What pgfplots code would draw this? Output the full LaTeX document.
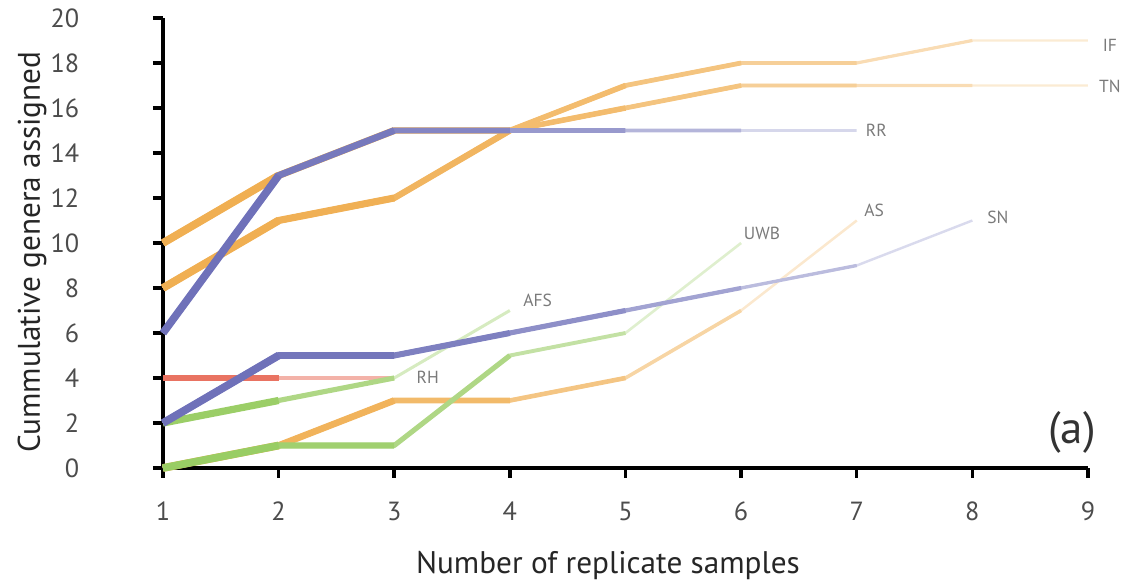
\documentclass[border=0pt]{standalone}
\usepackage{fontspec}
\setmainfont{PT Sans}
\usepackage{pgfplots}
\pgfplotsset{compat=1.18}
\usepackage{pgfplotstable}

\definecolor{orng}{HTML}{F0AE50}
\definecolor{blu}{HTML}{6E70B8}
\definecolor{grn}{HTML}{98CC62}
\definecolor{rd}{HTML}{E86A58}
\definecolor{lbl}{HTML}{7A7A7A}

% cumulative genera per replicate sample, one table per site
\pgfplotstableread{
x y
1 10
2 13
3 15
4 15
5 17
6 18
7 18
8 19
9 19
}\tIF
\pgfplotstableread{
x y
1 8
2 11
3 12
4 15
5 16
6 17
7 17
8 17
9 17
}\tTN
\pgfplotstableread{
x y
1 6
2 13
3 15
4 15
5 15
6 15
7 15
}\tRR
\pgfplotstableread{
x y
1 2
2 5
3 5
4 6
5 7
6 8
7 9
8 11
}\tSN
\pgfplotstableread{
x y
1 0
2 1
3 3
4 3
5 4
6 7
7 11
}\tAS
\pgfplotstableread{
x y
1 0
2 1
3 1
4 5
5 6
6 10
}\tUWB
\pgfplotstableread{
x y
1 2
2 3
3 4
4 7
}\tAFS
\pgfplotstableread{
x y
1 4
2 4
3 4
}\tRH

% tapered line: thick and strong at the start, thin and pale at the end
% #1 table, #2 colour, #3 number of points
\newcommand\taper[3]{%
  \pgfplotsforeachungrouped \m in {2,...,#3}{%
    \pgfmathtruncatemacro\p{#3+2-\m}%
    \pgfmathsetmacro\f{(\p-1.5)/(#3-1)}%
    \pgfmathsetmacro\tw{3.3-2.5*\f}%
    \pgfmathtruncatemacro\tc{100-85*\f*\f}%
    \edef\tmp{\noexpand\addplot[draw=#2!\tc!white, line width=\tw pt,
      line join=round, restrict x to domain=1:\p, forget plot]
      table {\noexpand#1};}%
    \tmp
  }%
}

\begin{document}
\begin{tikzpicture}
\useasboundingbox (0,0) rectangle (449.6pt,235.2pt);
\begin{axis}[
  at={(65.2pt,48pt)}, anchor=south west,
  scale only axis,
  width=370pt, height=180pt,
  xmin=1, xmax=9, ymin=0, ymax=20,
  xtick={1,...,9},
  ytick={0,2,...,20},
  axis x line*=bottom, axis y line*=left,
  axis line style={-, line width=1.5pt, black},
  tick align=outside,
  major tick length=4pt,
  tick style={line width=1.4pt, black},
  /pgf/number format/assume math mode=true,
  tick label style={font=\fontsize{10.5}{12}\selectfont, text=black!70},
  xticklabel style={yshift=-6pt},
  yticklabel style={xshift=-26pt},
  xlabel={Number of replicate samples},
  ylabel={Cummulative genera assigned},
  label style={font=\fontsize{12.5}{14}\selectfont, text=black!85},
  xlabel style={at={(axis description cs:0.481,-0.2156)}, anchor=center},
  ylabel style={at={(axis description cs:-0.1416,0.48)}, anchor=center},
  clip=false,
]
\taper{\tTN}{orng}{9}
\taper{\tIF}{orng}{9}
\taper{\tAS}{orng}{7}
\taper{\tRH}{rd}{3}
\taper{\tUWB}{grn}{6}
\taper{\tAFS}{grn}{4}
\taper{\tSN}{blu}{8}
\taper{\tRR}{blu}{7}

\begin{scope}[every node/.style={font=\fontsize{7}{8}\selectfont, text=lbl}]
\node at (axis cs:9.19,18.8) {IF};
\node at (axis cs:9.19,16.98) {TN};
\node at (axis cs:7.17,15.0) {RR};
\node at (axis cs:7.15,11.47) {AS};
\node at (axis cs:8.22,11.16) {SN};
\node at (axis cs:6.18,10.44) {UWB};
\node at (axis cs:4.24,7.47) {AFS};
\node at (axis cs:3.29,4.04) {RH};
\end{scope}
\end{axis}
\node[font=\fontsize{18}{20}\selectfont, text=black!80] at (428.8pt,62.4pt) {(a)};
\end{tikzpicture}
\end{document}
